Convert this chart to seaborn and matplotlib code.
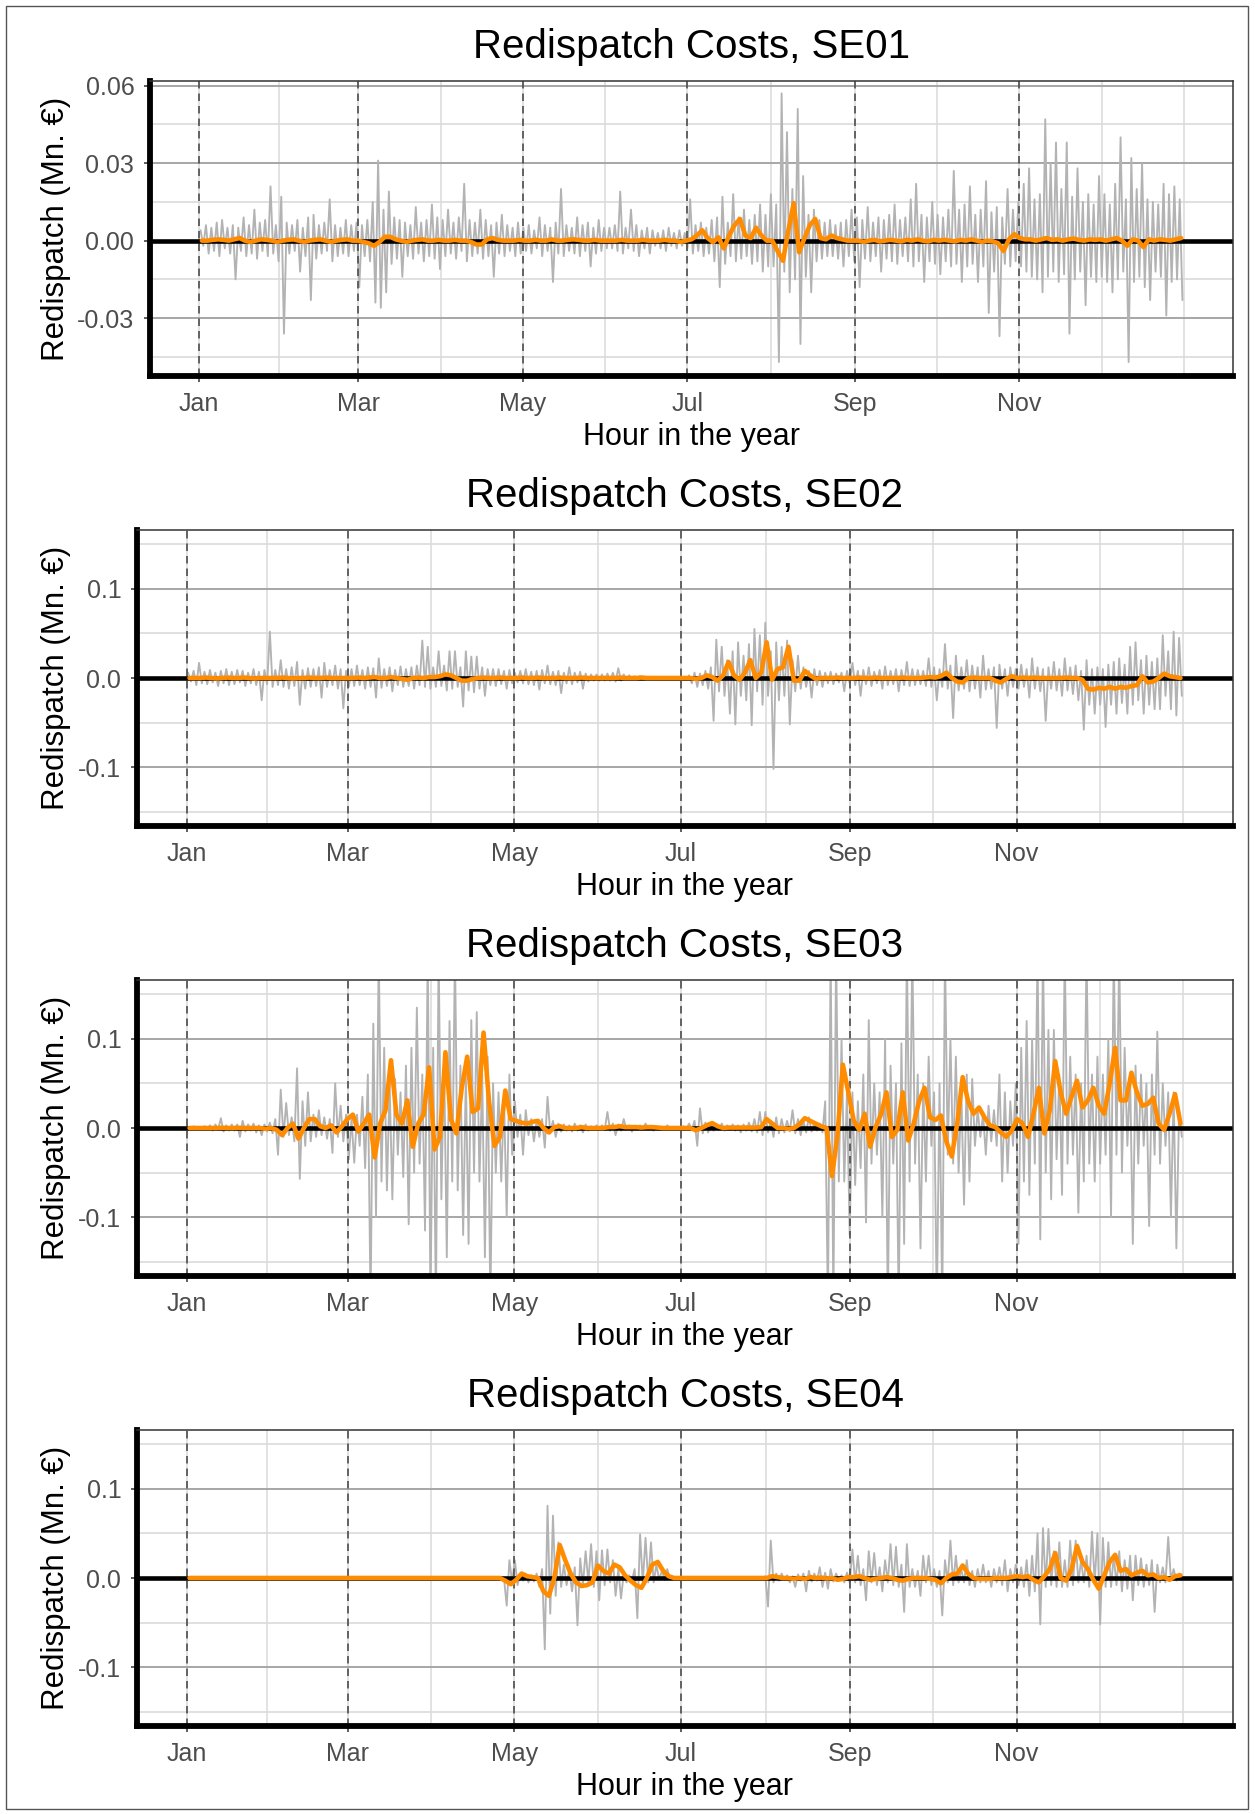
import numpy as np
import pandas as pd
import matplotlib
matplotlib.use("Agg")
import matplotlib.pyplot as plt
import seaborn as sns

# ---------------- data (units: 0.001 Mn EUR, one entry per 2-day slot) ----------------
month_days = [0, 59, 120, 181, 243, 304]
month_labels = ["Jan", "Mar", "May", "Jul", "Sep", "Nov"]
zones = ["SE01", "SE02", "SE03", "SE04"]

se01_hi = [4,6,5,7,8,5,6,5,9,6,12,7,8,21,6,17,
           7,6,8,5,9,10,6,7,16,6,5,8,6,7,
           6,8,15,31,12,19,9,8,7,6,13,7,8,14,9,
           8,12,7,9,22,8,7,12,8,6,7,10,6,5,7,
           5,6,4,9,6,5,7,20,6,5,9,6,7,5,8,5,
           5,6,19,5,12,6,4,5,4,3,4,5,3,4,3,
           16,6,7,5,8,9,17,7,18,9,12,8,10,14,10,
           18,14,57,42,20,51,25,10,12,8,7,8,6,7,8,12,
           9,8,13,7,9,8,10,14,8,9,16,22,10,9,15,
           10,9,12,27,12,14,21,10,12,23,11,13,9,20,12,
           15,22,28,16,18,47,30,38,20,38,17,28,15,18,14,
           25,18,14,22,40,16,32,20,30,16,15,14,22,18,21,16]
se01_lo = [-2,-5,-4,-6,-3,-5,-15,-4,-6,-5,-7,-4,-6,-5,-8,-36,
           -5,-4,-12,-6,-23,-7,-5,-4,-8,-6,-5,-6,-4,-18,
           -6,-8,-24,-26,-20,-9,-7,-14,-6,-7,-5,-8,-6,-7,-11,
           -6,-5,-7,-4,-8,-6,-5,-7,-6,-14,-5,-6,-4,-6,-5,
           -4,-5,-3,-6,-4,-16,-5,-6,-4,-5,-6,-4,-10,-5,-4,-3,
           -3,-4,-5,-3,-4,-6,-3,-5,-2,-3,-4,-2,-3,-2,-3,
           -5,-4,-6,-5,-8,-18,-9,-6,-8,-7,-6,-9,-8,-12,-10,
           -10,-47,-12,-20,-15,-40,-14,-20,-8,-7,-6,-6,-7,-10,-6,-8,
           -18,-7,-8,-6,-12,-7,-8,-9,-6,-8,-10,-8,-16,-8,-9,
           -13,-8,-10,-9,-16,-10,-9,-16,-10,-28,-12,-37,-9,-10,-8,
           -10,-12,-14,-15,-20,-14,-12,-16,-13,-36,-15,-12,-25,-14,-16,
           -14,-16,-20,-15,-12,-47,-16,-14,-18,-23,-12,-14,-29,-16,-15,-23]
se01_avg = [0,0,0.3,0.5,0.3,0,0.5,1,0,-0.5,0,0.5,0.3,0,-0.5,0,
            0.3,0.5,0,-0.5,0,0.3,0.5,0,-0.5,0,0.3,0.5,0,0,
            -0.5,-1,-2,-0.5,1.5,1.5,0.5,0,-0.5,0,0.3,0.5,0,0,0.3,
            0,0,0.3,0,0,-0.5,-1.5,-1.5,0.5,1,0.3,0,0,0,0.3,
            0,0,0.3,0,0,0.5,0,0,0.3,0.5,0.3,0,0,0.3,0,0,
            0,0,0.3,0,0,0,0.3,0,0,0,0.3,0,0,-0.5,0,
            0.5,2,4,1,-0.6,1.3,-3,2,6,8.4,2,1,5,2,0,
            0,-4,-7.8,4,14.5,-4.5,1,6,8.4,1,0.5,2,1,0.5,0,0,
            0,-0.5,0,0.3,-0.3,0,0.3,0,-0.3,0.3,0,0.5,0,-0.3,0.3,
            0,0.3,0,-0.3,0.3,0,0.5,0,-0.5,0,-0.3,-1,-4,0.5,2.5,
            1,0.5,0.5,0,0.5,1,0.3,0.5,0,0.5,0.8,0.3,0,0.5,0.3,
            0.5,0,0.5,1,0,-2,0.5,0,-2.5,0.5,0,0.5,0.3,0,0.5,1]

se02_hi = [6,8,17,7,9,6,8,10,7,9,8,6,10,7,9,52,
           9,20,10,12,18,9,11,10,12,17,9,14,10,8,
           10,14,9,12,11,22,10,12,9,13,10,12,14,42,35,
           12,30,14,30,30,12,30,24,24,12,10,10,10,8,9,
           6,8,10,7,8,9,14,7,8,6,12,6,7,5,4,4,
           4,5,6,11,4,3,2,2,1,1,1,1,1,1,1,
           1,3,6,5,8,12,43,35,20,30,40,25,38,55,48,
           62,30,40,35,42,20,25,12,8,10,8,6,7,5,6,8,
           17,8,9,12,7,9,13,8,10,9,18,10,9,8,22,
           12,10,38,14,25,12,20,14,12,25,10,12,15,10,12,
           10,15,10,22,12,10,12,18,10,22,12,14,8,20,10,
           12,10,15,18,22,15,35,40,20,25,18,22,48,30,52,45]
se02_lo = [-4,-8,-6,-7,-5,-9,-6,-8,-7,-5,-9,-6,-8,-25,-7,-10,
           -8,-10,-12,-9,-30,-12,-10,-9,-22,-10,-8,-12,-34,-10,
           -9,-8,-12,-10,-22,-11,-9,-15,-8,-10,-9,-12,-8,-10,-12,
           -10,-9,-14,-12,-10,-32,-14,-16,-12,-20,-8,-9,-7,-12,-6,
           -5,-6,-7,-8,-13,-6,-7,-8,-17,-6,-7,-5,-12,-4,-3,-3,
           -3,-3,-4,-3,-2,-2,-1,-1,-1,-1,-1,-1,-1,-1,-1,
           -2,-6,-10,-8,-12,-48,-15,-20,-40,-52,-20,-25,-53,-15,-30,
           -20,-102,-25,-20,-52,-15,-12,-10,-22,-8,-10,-6,-7,-5,-15,-6,
           -8,-20,-7,-9,-6,-12,-8,-7,-15,-8,-9,-8,-7,-9,-10,
           -25,-10,-12,-45,-14,-12,-15,-12,-22,-13,-12,-56,-12,-20,-10,
           -12,-10,-22,-12,-15,-48,-12,-14,-20,-14,-18,-25,-58,-30,-40,
           -30,-55,-30,-40,-28,-40,-30,-25,-40,-30,-35,-35,-20,-35,-42,-20]
se02_avg = [0,0,0,0.5,0,-0.5,0,0.5,0,0,0.5,0,-0.5,0,0,0,
            0,0.5,0,-0.5,0,0,0.5,0,0,0.5,0,0,0,0,
            0,0.5,0,0.5,1,0,0,1,0,-1,-2,0,0.5,0,1,
            1,2,4,3,0,-3,-3,-1,0,0.5,0,0,0.5,0,0,
            0,0.5,0,0,0.5,0,0,0,0.5,0,0,0,0.5,0,0,0,
            0,0,0,0.5,0,0,0,0.5,0,0,0,0,0,0,0,
            0,0,-1,0,3,1,-3,3,18,3,-2,6,20,0,6,
            40,-2,10,12,35,-3,-3,8,3,-1,0,0,0,0.5,0,0,
            0,0.5,0,0,0.5,0,0,0,0,0.5,0,0,0,0.5,1,
            0.5,2,6,0,-4,-5,0,0.5,0,0,0,-3,-5,-1,2,
            0,0.5,0,0.5,0,0,0,0,0,0.5,0,0,-2,-12,-13,
            -11,-12,-10,-12,-10,-11,-9,-8,2,-5,-4,0,5,2,1,0]

se03_hi = [1,2,1,2,3,4,11,3,4,4,8,4,5,3,4,6,
           10,43,28,12,67,30,40,15,20,12,10,50,25,15,
           10,15,35,60,117,200,90,50,55,40,70,90,135,60,200,
           90,200,80,120,200,70,60,121,130,60,80,50,40,35,60,
           30,15,20,10,8,10,35,8,5,4,3,5,3,4,2,3,
           3,18,5,4,10,3,2,3,5,2,2,1,3,1,1,
           2,5,8,22,6,4,3,5,3,4,3,4,6,10,18,
           18,8,12,10,8,20,10,8,12,6,5,30,200,200,100,40,
           40,30,60,121,50,40,100,70,50,95,200,200,60,50,80,
           40,50,200,100,80,40,60,55,20,15,25,20,60,40,30,
           50,90,120,100,200,200,110,110,60,200,80,60,50,200,60,
           80,60,100,200,200,90,60,70,60,50,60,108,50,40,40,20]
se03_lo = [-1,-1,-2,-1,-3,-2,-4,-3,-3,-10,-4,-3,-5,-8,-4,-6,
           -30,-10,-8,-15,-57,-20,-15,-10,-8,-12,-28,-10,-15,-35,
           -39,-20,-45,-200,-100,-60,-70,-80,-30,-55,-108,-50,-40,-115,-200,
           -200,-80,-145,-60,-70,-120,-130,-50,-60,-145,-200,-50,-60,-100,-30,
           -10,-30,-8,-15,-10,-22,-6,-10,-4,-3,-4,-3,-5,-3,-2,-2,
           -2,-3,-8,-3,-2,-4,-2,-1,-2,-3,-1,-1,-1,-1,-1,
           -1,-2,-20,-6,-5,-3,-2,-3,-2,-3,-5,-3,-4,-5,-8,
           -5,-10,-6,-5,-4,-6,-8,-5,-4,-3,-5,-200,-200,-60,-60,-120,
           -64,-45,-106,-40,-30,-100,-200,-40,-200,-130,-60,-40,-135,-60,-20,
           -200,-200,-30,-40,-50,-86,-60,-20,-10,-30,-15,-20,-60,-50,-20,
           -130,-60,-75,-40,-125,-50,-80,-35,-75,-40,-30,-95,-60,-40,-60,
           -40,-30,-100,-30,-50,-20,-130,-40,-20,-110,-30,-40,-20,-100,-135,-10]
se03_avg = [0,0,0,0,0,0,0.3,0,0,0.3,0,0,0,0,-1,0,
            -2,-8,0,5,-12,0,10,10,2,0,3,-5,2,10,
            15,-4,5,15,-33,5,20,76,15,5,31,-21,5,15,68,
            -24,-10,85,10,-6,45,80,18,22,107,30,-20,-10,42,10,
            8,6,5,7,8,0,-5,1,2,0,0,0,1,0,0,0,
            0,1,1,2,1,1,1,0.5,1,1,0.5,0,0,0,0,
            0,0,-2.6,0,3,5.5,2,0,0.5,0.5,0.5,0.5,0.5,0.5,1,
            10,5,0,0,-1,0,4,11,8,5,2,0,-54,-8,71,40,
            8,-2,16,-21,1,15,40,-10,-2,40,-14,5,30,45,12,
            9,14,-15,-32,5,57,30,16,23,12,3,1,-5,-10,-3,
            10,5,-10,16,45,-6,20,75,40,16,35,53,23,31,45,
            25,16,50,90,31,31,62,40,25,27,34,5,-2,16,38,5]

se04_hi = [0]*16 + [0]*14 + [0]*15 + \
          [0,0,0,0,0,0,0,0,0,0,0,0,0,0,20] + \
          [20,5,5,3,5,10,81,70,40,15,10,12,22,30,38,30,
           31,32,20,10,5,3,10,49,45,40,15,8,10,1,1,
           1,0.5,0.5,1,0.5,0.5,0.5,1,0.5,0.5,1,0.5,0.5,0.5,1,
           2,42,5,5,3,2,4,5,8,5,12,6,10,5,3,6,
           32,25,10,30,28,12,20,38,35,15,38,10,8,25,25,
           10,8,20,42,25,10,20,8,10,15,8,10,12,20,10,
           15,12,20,25,50,56,55,30,40,20,42,42,20,25,52,
           50,45,40,25,30,20,25,25,22,15,20,15,12,46,10,5]
se04_lo = [0]*16 + [0]*14 + [0]*15 + \
          [0,0,0,0,0,0,0,0,0,0,0,0,0,-31,-5] + \
          [-8,-3,-5,-4,-10,-80,-40,-20,-10,-8,-15,-53,-8,-5,-10,-25,
           -8,-5,-20,-23,-5,-3,-45,-5,-5,-5,-2,-2,-1,-0.5,-0.5,
           -0.5,-0.5,-1,-0.5,-0.5,-0.5,-1,-0.5,-0.5,-0.5,-0.5,-1,-0.5,-0.5,-0.5,
           -32,-5,-3,-2,-5,-10,-3,-15,-4,-3,-10,-12,-4,-3,-5,-5,
           -5,-8,-25,-5,-8,-15,-5,-8,-10,-38,-10,-10,-20,-5,-8,
           -10,-42,-5,-8,-5,-5,-8,-10,-5,-5,-10,-5,-8,-15,-5,
           -8,-10,-20,-15,-52,-10,-8,-10,-10,-10,-8,-5,-5,-10,-5,
           -52,-10,-10,-8,-15,-12,-25,-8,-10,-8,-38,-5,-5,-2,-3,-2]
se04_avg = [0]*16 + [0]*14 + [0]*15 + \
           [0,0,0,0,0,0,0,0,0,0,0,0,0,-3,-7] + \
           [-2,5,2,1,0,-15,-20,0,37,20,5,-5,-9,-8,-5,14,
            8,5,15,12,3,-3,-8,-11,0,15,18,8,2,0,0,
            0,0,0,0,0,0,0,0,0,0,0,0,0,0,0,
            0,2,1,0,0,-1,0,-1,1,0,0.5,-0.5,0,-2,-1,1,
            1,2,0,-2,-1,0,1,0,-2,-3,-1,0,0,0,-1,
            -2,-6,0,4,5,14,5,0,-1,-1,-1,0,0,0,1,
            2,1,2,-2,-5,2,10,28,0,-3,10,36,18,10,-2,
            -12,3,18,26,8,10,3,6,8,3,4,0,1,-2,2,3]

hourly_hi = [se01_hi, se02_hi, se03_hi, se04_hi]
hourly_lo = [se01_lo, se02_lo, se03_lo, se04_lo]
smooth = [se01_avg, se02_avg, se03_avg, se04_avg]

# ---------------- style ----------------
sns.set_theme(style="white")
plt.rcParams["font.family"] = ["Liberation Sans", "DejaVu Sans"]

W, H = 1255, 1814
fig = plt.figure(figsize=(W / 100, H / 100), dpi=100)

GRAY = "#b3b3b3"
ORANGE = "#ff8c00"
MAJ = "#a6a6a6"
MIN = "#dadada"
TICKC = "#4d4d4d"

# panel boxes in pixels: left, top, right, bottom
boxes = [(150, 81, 1233, 376), (137, 530, 1233, 826),
         (137, 980, 1233, 1276), (137, 1430, 1233, 1726)]
ylims = [(-0.0524, 0.0618), (-0.166, 0.166), (-0.166, 0.166), (-0.166, 0.166)]
ymajor = [[-0.03, 0.0, 0.03, 0.06], [-0.1, 0.0, 0.1], [-0.1, 0.0, 0.1], [-0.1, 0.0, 0.1]]
ylabels = [["-0.03", "0.00", "0.03", "0.06"], ["-0.1", "0.0", "0.1"],
           ["-0.1", "0.0", "0.1"], ["-0.1", "0.0", "0.1"]]
yminor = [[-0.045, -0.015, 0.015, 0.045], [-0.15, -0.05, 0.05, 0.15],
          [-0.15, -0.05, 0.05, 0.15], [-0.15, -0.05, 0.05, 0.15]]
xminor = [29.5, 89.5, 150.5, 212, 273.5, 334.5, 365]

for k in range(4):
    l, t, r, b = boxes[k]
    ax = fig.add_axes([l / W, 1 - b / H, (r - l) / W, (b - t) / H])
    ax.set_facecolor("white")

    hi, lo, av = hourly_hi[k], hourly_lo[k], smooth[k]
    n = len(hi)
    w = 365.0 / n
    xs, ys = [], []
    for i in range(n):
        xs += [i * w + 0.25 * w, i * w + 0.75 * w]
        ys += [hi[i], lo[i]]
    gdf = pd.DataFrame({"day": xs, "cost": np.array(ys, float) / 1000.0})
    m = len(av)
    odf = pd.DataFrame({"day": (np.arange(m) + 0.5) * (365.0 / m),
                        "cost": np.array(av, float) / 1000.0})

    # grid
    for y in yminor[k]:
        ax.axhline(y, color=MIN, lw=1.2, zorder=0.5)
    for y in ymajor[k]:
        ax.axhline(y, color=MAJ, lw=1.4, zorder=0.6)
    for d in xminor + month_days:
        ax.axvline(d, color=MIN, lw=1.1, zorder=0.5)

    sns.lineplot(data=gdf, x="day", y="cost", ax=ax, color=GRAY, linewidth=1.35,
                 estimator=None, errorbar=None, zorder=2)
    for d in month_days:
        ax.axvline(d, color="#4d4d4d", lw=1.2, ls=(0, (4.5, 3)), zorder=2.2)
    ax.axhline(0, color="black", lw=3.3, zorder=2.5)
    sns.lineplot(data=odf, x="day", y="cost", ax=ax, color=ORANGE, linewidth=3.3,
                 estimator=None, errorbar=None, zorder=3)

    ax.set_xlim(-18.25, 383.25)
    ax.set_ylim(*ylims[k])
    ax.set_xticks(month_days)
    ax.set_xticklabels(month_labels)
    ax.set_yticks(ymajor[k])
    ax.set_yticklabels(ylabels[k])
    ax.set_xlabel("")
    ax.set_ylabel("")
    ax.tick_params(axis="both", which="major", direction="out", length=4.3, width=1.1,
                   color="#333333", labelsize=18, labelcolor=TICKC, pad=7,
                   bottom=True, left=True)
    for s in ["left", "bottom"]:
        ax.spines[s].set_color("black")
        ax.spines[s].set_linewidth(4.2)
        ax.spines[s].set_zorder(6)
        ax.spines[s].set_capstyle("projecting")
    for s in ["top", "right"]:
        ax.spines[s].set_color("#333333")
        ax.spines[s].set_linewidth(1.1)
        ax.spines[s].set_zorder(6)

    cx = (l + r) / 2.0
    fig.text(cx / W, 1 - (t - 23) / H, "Redispatch Costs, " + zones[k],
             ha="center", va="baseline", fontsize=29, color="black")
    fig.text(cx / W, 1 - (b + 69) / H, "Hour in the year",
             ha="center", va="baseline", fontsize=22, color="black")
    fig.text(56 / W, 1 - ((t + b) / 2.0) / H, "Redispatch (Mn. \u20ac)",
             ha="center", va="center", rotation=90, fontsize=22.5, color="black")

fig.add_artist(plt.Rectangle((6 / W, 1 - 1809 / H), (1248 - 6) / W, (1809 - 6) / H,
                             transform=fig.transFigure, fill=False,
                             edgecolor="#555555", lw=1.0))

fig.savefig("out.png", dpi=100)
